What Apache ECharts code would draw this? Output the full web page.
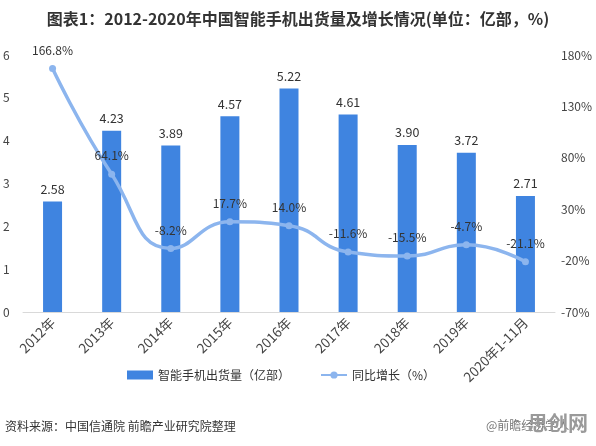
<!DOCTYPE html>
<html><head><meta charset="utf-8">
<script src="https://cdn.jsdelivr.net/npm/echarts@6/dist/echarts.min.js"></script>
<style>html,body{margin:0;padding:0;background:#fff}#c{width:596px;height:446px}</style>
</head><body><div id="c"></div>
<script>
const categories = ['2012年','2013年','2014年','2015年','2016年','2017年','2018年','2019年','2020年1-11月'];
const shipments = [2.58, 4.23, 3.89, 4.57, 5.22, 4.61, 3.90, 3.72, 2.71];
const growth = [166.8, 64.1, -8.2, 17.7, 14.0, -11.6, -15.5, -4.7, -21.1];
const leftTicks = [0, 6, 1];
const rightTicks = [-70, 180, 50];
const font = '"Noto Sans CJK SC", "Microsoft YaHei", sans-serif';
const chart = echarts.init(document.getElementById('c'));
chart.setOption({
  animation: false,
  textStyle: { fontFamily: font },
  title: {
    text: '图表1：2012-2020年中国智能手机出货量及增长情况(单位：亿部，%)',
    left: 'center', top: 6,
    textStyle: { fontSize: 16, fontWeight: 'bold', color: '#333', fontFamily: font }
  },
  graphic: [
    { type: 'text', left: 5, top: 420, style: { text: '资料来源：中国信通院 前瞻产业研究院整理', fill: '#333', font: '12px ' + font } },
    { type: 'text', left: 486, top: 419, style: { text: '@前瞻经济学人', fill: '#777', font: '12px ' + font } },
    { type: 'text', left: 528, top: 413, style: { text: '思创网', fill: '#9a9a9a', font: 'bold 20px ' + font } }
  ],
  legend: {
    bottom: 60, left: 122, itemGap: 30, itemWidth: 26, itemHeight: 9,
    textStyle: { fontSize: 12, color: '#333', fontFamily: font },
    data: [
      { name: '智能手机出货量（亿部）', icon: 'rect' },
      { name: '同比增长（%）' }
    ]
  },
  grid: { left: 20, right: 41, top: 55, bottom: 134, containLabel: false },
  xAxis: {
    type: 'category', data: categories,
    axisLine: { lineStyle: { color: '#d9d9d9' } },
    axisTick: { show: false },
    axisLabel: { rotate: 45, fontSize: 13.5, color: '#444', margin: 8, interval: 0 }
  },
  yAxis: [
    {
      type: 'value', min: leftTicks[0], max: leftTicks[1], interval: leftTicks[2],
      splitLine: { show: false }, axisLine: { show: false }, axisTick: { show: false },
      axisLabel: { fontSize: 12, color: '#444', margin: 8, align: 'left', padding: [0,0,0,-12] }
    },
    {
      type: 'value', min: rightTicks[0], max: rightTicks[1], interval: rightTicks[2],
      splitLine: { show: false }, axisLine: { show: false }, axisTick: { show: false },
      axisLabel: { fontSize: 12, color: '#444', margin: 6, formatter: '{value}%' }
    }
  ],
  series: [
    {
      name: '智能手机出货量（亿部）', type: 'bar', data: shipments, yAxisIndex: 0,
      barWidth: 19, itemStyle: { color: '#3f84e0' },
      label: { show: true, position: 'top', fontSize: 12.5, color: '#333', distance: 6, formatter: p => p.value.toFixed(2) }
    },
    {
      name: '同比增长（%）', type: 'line', data: growth, yAxisIndex: 1, smooth: true,
      symbol: 'circle', symbolSize: 7,
      lineStyle: { width: 3.5, color: '#8cb5ee' },
      itemStyle: { color: '#8cb5ee' },
      label: { show: true, position: 'top', fontSize: 12, color: '#333', distance: 9, formatter: p => p.value.toFixed(1) + '%' }
    }
  ]
});
</script></body></html>
